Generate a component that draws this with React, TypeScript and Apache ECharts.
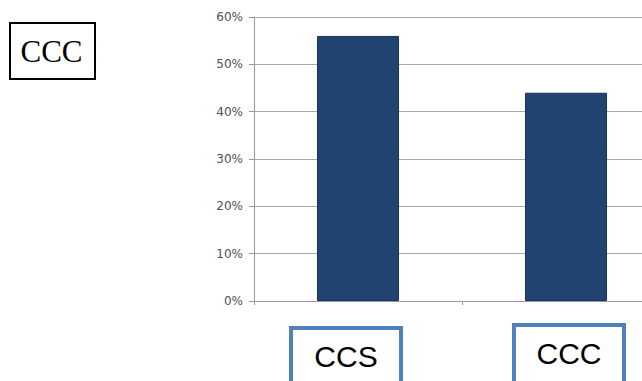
import React, { useEffect, useRef } from "react";
import * as echarts from "echarts";

const categories = ["CCS", "CCC"];
const values = [56, 44];
const yTicks = [0, 10, 20, 30, 40, 50, 60];
const sideLabel = "CCC";

export default function App() {
  const ref = useRef<HTMLDivElement>(null);
  useEffect(() => {
    if (!ref.current) return;
    const chart = echarts.init(ref.current, undefined, { renderer: "svg" });
    chart.setOption({
      animation: false,
      backgroundColor: "#ffffff",
      grid: { left: 254, top: 17, width: 416, height: 284, containLabel: false },
      xAxis: {
        type: "category",
        data: categories,
        axisLine: { show: true, lineStyle: { color: "#9a9a9a", width: 1 } },
        axisTick: { show: true, length: 4, lineStyle: { color: "#9a9a9a" } },
        axisLabel: { show: false },
        splitLine: { show: false },
      },
      yAxis: {
        type: "value",
        min: yTicks[0],
        max: yTicks[yTicks.length - 1],
        interval: 10,
        axisLine: { show: true, lineStyle: { color: "#9a9a9a", width: 1 } },
        axisTick: { show: true, length: 5, lineStyle: { color: "#9a9a9a" } },
        axisLabel: {
          formatter: "{value}%",
          fontFamily: "'DejaVu Sans', Verdana, sans-serif",
          fontSize: 12,
          color: "#505050",
          margin: 11,
        },
        splitLine: { show: true, lineStyle: { color: "#a8a8a8", width: 1 } },
      },
      series: [
        {
          type: "bar",
          data: values,
          barWidth: 82,
          itemStyle: { color: "#21436f", borderColor: "#17335a", borderWidth: 1 },
        },
      ],
      graphic: [
        {
          type: "rect",
          shape: { x: 10, y: 23, width: 85, height: 56 },
          style: { fill: "#ffffff", stroke: "#000000", lineWidth: 2 },
        },
        {
          type: "text",
          x: 51.5,
          y: 51,
          style: {
            text: sideLabel,
            font: "31px 'Liberation Serif', 'Times New Roman', serif",
            fill: "#000000",
            align: "center",
            verticalAlign: "middle",
          },
        },
        {
          type: "rect",
          shape: { x: 291, y: 328, width: 110, height: 70 },
          style: { fill: "#ffffff", stroke: "#4f81bd", lineWidth: 4 },
        },
        {
          type: "text",
          x: 346,
          y: 356,
          style: {
            text: categories[0],
            font: "30px 'Liberation Sans', Arial, sans-serif",
            fill: "#000000",
            align: "center",
            verticalAlign: "middle",
          },
        },
        {
          type: "rect",
          shape: { x: 514, y: 325, width: 110, height: 70 },
          style: { fill: "#ffffff", stroke: "#4f81bd", lineWidth: 4 },
        },
        {
          type: "text",
          x: 569,
          y: 353,
          style: {
            text: categories[1],
            font: "30px 'Liberation Sans', Arial, sans-serif",
            fill: "#000000",
            align: "center",
            verticalAlign: "middle",
          },
        },
      ],
    });
    return () => chart.dispose();
  }, []);
  return (
    <div
      style={{
        position: "fixed",
        left: 0,
        top: 0,
        width: 642,
        height: 381,
        overflow: "hidden",
        background: "#ffffff",
      }}
    >
      <div ref={ref} style={{ width: 700, height: 381 }} />
    </div>
  );
}
